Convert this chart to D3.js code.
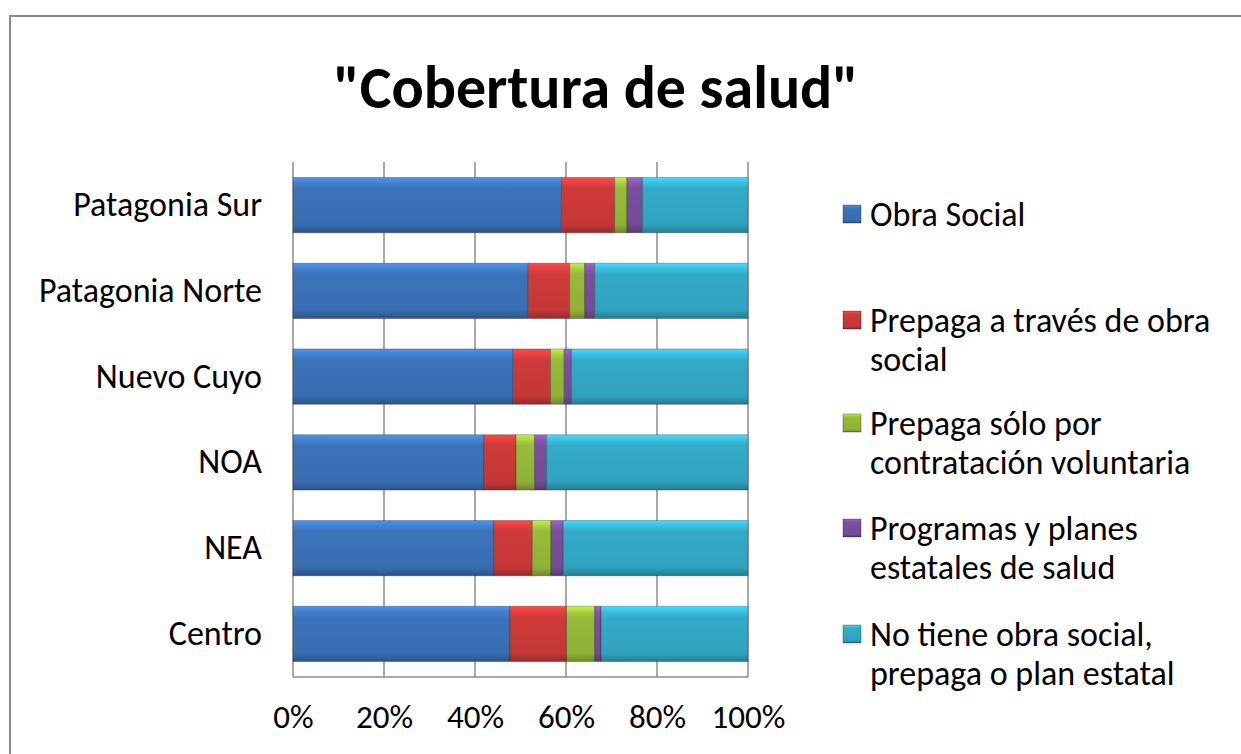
<!DOCTYPE html>
<html>
<head>
<meta charset="utf-8">
<script src="https://cdn.jsdelivr.net/npm/d3@7"></script>
<style>
  body { margin: 0; background: #fff; }
  text { font-family: Carlito, Lato, "Open Sans", sans-serif; fill: #000; }
</style>
</head>
<body>
<div id="vis"></div>
<script>
const regions = ["Patagonia Sur", "Patagonia Norte", "Nuevo Cuyo", "NOA", "NEA", "Centro"];
const seriesNames = [
  "Obra Social",
  "Prepaga a través de obra social",
  "Prepaga sólo por contratación voluntaria",
  "Programas y planes estatales de salud",
  "No tiene obra social, prepaga o plan estatal"
];
const legendLines = [
  ["Obra Social"],
  ["Prepaga a través de obra", "social"],
  ["Prepaga sólo por", "contratación voluntaria"],
  ["Programas y planes", "estatales de salud"],
  ["No tiene obra social,", "prepaga o plan estatal"]
];
// percent per region, same order as regions
const obraSocial   = [59.0, 51.7, 48.4, 42.0, 44.2, 47.7];
const prepagaObra  = [11.7,  9.1,  8.2,  7.0,  8.4, 12.4];
const prepagaVol   = [ 2.7,  3.3,  3.0,  4.1,  4.1,  6.2];
const programas    = [ 3.4,  2.2,  1.6,  2.6,  2.7,  1.4];
const noTiene      = [23.2, 33.7, 38.8, 44.3, 40.6, 32.3];
const tickValues = [0, 0.2, 0.4, 0.6, 0.8, 1];
const colors = ["#3b73bb", "#cf3a3a", "#97bb3a", "#7a4f9e", "#33abc8"];

const width = 1241, height = 754;
const plot = { left: 293, right: 748, top: 162, bottom: 677 };

const svg = d3.select("#vis").append("svg")
  .attr("width", width).attr("height", height);

// chart frame
svg.append("rect")
  .attr("x", 10).attr("y", 16).attr("width", width + 20).attr("height", height)
  .attr("fill", "#fff").attr("stroke", "#8a8a8a").attr("stroke-width", 2);

svg.append("text")
  .attr("x", 596).attr("y", 108)
  .attr("text-anchor", "middle")
  .style("font-size", "60px").style("font-weight", "bold")
  .text("\"Cobertura de salud\"");

const rows = regions.map((r, i) => {
  const row = { region: r };
  [obraSocial, prepagaObra, prepagaVol, programas, noTiene].forEach((arr, j) => row[seriesNames[j]] = arr[i]);
  return row;
});
const stack = d3.stack().keys(seriesNames).offset(d3.stackOffsetExpand)(rows);

const x = d3.scaleLinear([0, 1], [plot.left, plot.right]);
const y = d3.scaleBand(regions, [plot.top, plot.bottom]).paddingInner(0.355).paddingOuter(0.18);

// gradients for bevelled look
const defs = svg.append("defs");
colors.forEach((c, i) => {
  const g = defs.append("linearGradient").attr("id", "g" + i)
    .attr("x1", 0).attr("y1", 0).attr("x2", 0).attr("y2", 1);
  const base = d3.color(c);
  g.append("stop").attr("offset", 0).attr("stop-color", base.brighter(0.7));
  g.append("stop").attr("offset", 0.12).attr("stop-color", base.brighter(0.25));
  g.append("stop").attr("offset", 0.2).attr("stop-color", base);
  g.append("stop").attr("offset", 0.85).attr("stop-color", base.darker(0.15));
  g.append("stop").attr("offset", 1).attr("stop-color", base.darker(0.9));
});

// gridlines
const grid = svg.append("g");
grid.selectAll("line").data(tickValues).join("line")
  .attr("x1", d => x(d)).attr("x2", d => x(d))
  .attr("y1", plot.top).attr("y2", plot.bottom)
  .attr("stroke", "#8c8c8c").attr("stroke-width", 1.5);
grid.append("line")
  .attr("x1", plot.left).attr("x2", plot.right)
  .attr("y1", plot.bottom).attr("y2", plot.bottom)
  .attr("stroke", "#8c8c8c").attr("stroke-width", 1.5);

// bars
svg.append("g").selectAll("g").data(stack).join("g")
  .attr("fill", (d, i) => `url(#g${i})`)
  .selectAll("rect").data(d => d).join("rect")
  .attr("x", d => x(d[0]))
  .attr("width", d => x(d[1]) - x(d[0]))
  .attr("y", d => y(d.data.region))
  .attr("height", y.bandwidth())
  .attr("stroke", "rgba(0,0,0,0.25)").attr("stroke-width", 1);

// axes
const xAxis = svg.append("g")
  .attr("transform", `translate(0,${plot.bottom})`)
  .call(d3.axisBottom(x).tickValues(tickValues).tickFormat(d3.format(".0%")).tickSize(0).tickPadding(28));
xAxis.select(".domain").remove();
xAxis.selectAll("text").style("font-size", "33px").attr("fill", "#000");

const yAxis = svg.append("g")
  .attr("transform", `translate(${plot.left},0)`)
  .call(d3.axisLeft(y).tickSize(0).tickPadding(31));
yAxis.select(".domain").remove();
yAxis.selectAll("text").style("font-size", "34px").attr("fill", "#000");

// legend
const legendY = [214, 320, 423, 528, 634];
const legend = svg.append("g").selectAll("g").data(legendLines).join("g")
  .attr("transform", (d, i) => `translate(843,${legendY[i]})`);
legend.append("rect")
  .attr("x", 0).attr("y", -9).attr("width", 18).attr("height", 18)
  .attr("fill", (d, i) => `url(#g${i})`)
  .attr("stroke", "rgba(0,0,0,0.3)");
legend.append("text")
  .attr("x", 27).attr("y", 12)
  .style("font-size", "34px")
  .selectAll("tspan").data(d => d).join("tspan")
  .attr("x", 27).attr("dy", (d, i) => i ? 39 : 0)
  .text(d => d);
</script>
</body>
</html>
